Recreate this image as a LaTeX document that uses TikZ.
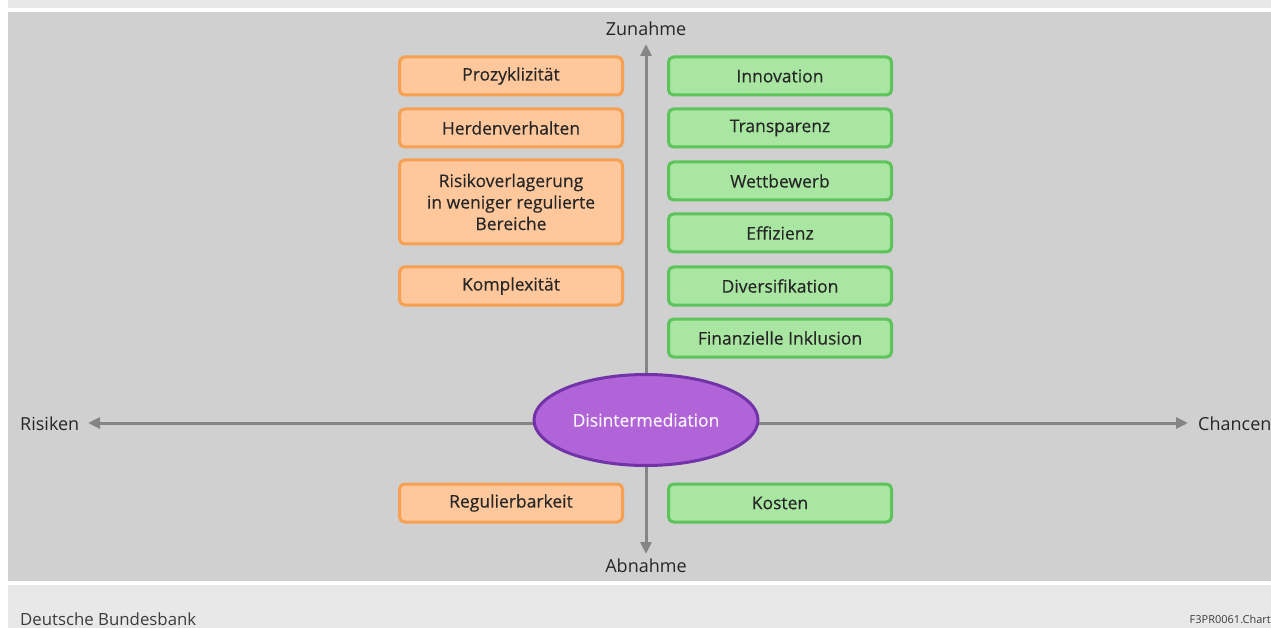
\documentclass[tikz,border=0pt]{standalone}
\usepackage{fontspec}
\setmainfont{Open Sans}
\newfontfamily\boxfont[FakeBold=0.35]{Open Sans}
\usetikzlibrary{arrows.meta,shapes.geometric}
\usepackage{xcolor}
\definecolor{topgray}{HTML}{E8E8E8}
\definecolor{panelgray}{HTML}{D0D0D0}
\definecolor{axisgray}{HTML}{858585}
\definecolor{riskfill}{HTML}{FFC89C}
\definecolor{riskdraw}{HTML}{F5A052}
\definecolor{chancefill}{HTML}{A9E6A2}
\definecolor{chancedraw}{HTML}{5DC35B}
\definecolor{ellfill}{HTML}{B064D8}
\definecolor{elldraw}{HTML}{7232A8}
\definecolor{txtdark}{HTML}{262626}

\begin{document}
\begin{tikzpicture}[
    x=1pt,y=-1pt,
    risk/.style={draw=riskdraw,fill=riskfill,line width=3pt,rounded corners=5pt,minimum width=223pt,minimum height=38pt,inner sep=0pt,text=txtdark,font=\boxfont\fontsize{17.5}{21.5}\selectfont,align=center},
    chance/.style={draw=chancedraw,fill=chancefill,line width=3pt,rounded corners=5pt,minimum width=223pt,minimum height=38pt,inner sep=0pt,text=txtdark,font=\boxfont\fontsize{17.5}{21.5}\selectfont},
    axis/.style={draw=axisgray,line width=3pt,-{Triangle[length=12pt,width=11pt]}},
    lab/.style={text=txtdark,font=\fontsize{18}{21}\selectfont,inner sep=0pt},
]
\useasboundingbox (0,0) rectangle (1271,628);
% background bands
\fill[topgray] (8,0) rectangle (1271,8);
\fill[panelgray] (8,12) rectangle (1271,581);
\fill[topgray] (8,585) rectangle (1271,628);

% axes
\coordinate (ctr)   at (646,423);
\coordinate (uptip) at (646,44);
\coordinate (dntip) at (646,554);
\coordinate (lftip) at (88,423);
\coordinate (rttip) at (1188,423);
\draw[axis] (ctr) -- (uptip);
\draw[axis] (ctr) -- (dntip);
\draw[axis] (ctr) -- (lftip);
\draw[axis] (ctr) -- (rttip);

\node[lab] (zun) at (646,29) {Zunahme};
\node[lab] (abn) at (646,566) {Abnahme};
\node[lab,anchor=west] (ris) at (20,424) {Risiken};
\node[lab,anchor=west] (cha) at (1198,424) {Chancen};

% risks
\node[risk] (prozy) at (511,76) {Prozyklizität};
\node[risk] (herde) at (511,128) {Herdenverhalten};
\node[risk,minimum height=84pt] (risiko) at (511,202) {Risikoverlagerung\\in weniger regulierte\\Bereiche};
\node[risk] (kompl) at (511,286) {Komplexität};
\node[risk] (regul) at (511,503) {Regulierbarkeit};

% chances
\node[chance] (innov) at (780,76) {Innovation};
\node[chance] (trans) at (780,128) {Transparenz};
\node[chance] (wettb) at (780,181) {Wettbewerb};
\node[chance] (effiz) at (780,233) {Effizienz};
\node[chance] (diver) at (780,286) {Diversifikation};
\node[chance] (inklu) at (780,338) {Finanzielle Inklusion};
\node[chance] (kost)  at (780,503) {Kosten};

% centre
\node[ellipse,draw=elldraw,fill=ellfill,line width=3pt,minimum width=224pt,minimum height=91pt,inner sep=0pt,text=white!92!ellfill,font=\boxfont\fontsize{17.5}{21}\selectfont] (disint) at (646,420) {Disintermediation};

% footer
\node[anchor=base west,inner sep=0pt,text=txtdark!90,font=\fontsize{16.8}{19}\selectfont] (bbk) at (20,625) {Deutsche Bundesbank};
\node[anchor=base east,inner sep=0pt,text=txtdark!90,font=\fontsize{11}{13}\selectfont] (chartid) at (1271,623) {F3PR0061.Chart};
\end{tikzpicture}
\end{document}
